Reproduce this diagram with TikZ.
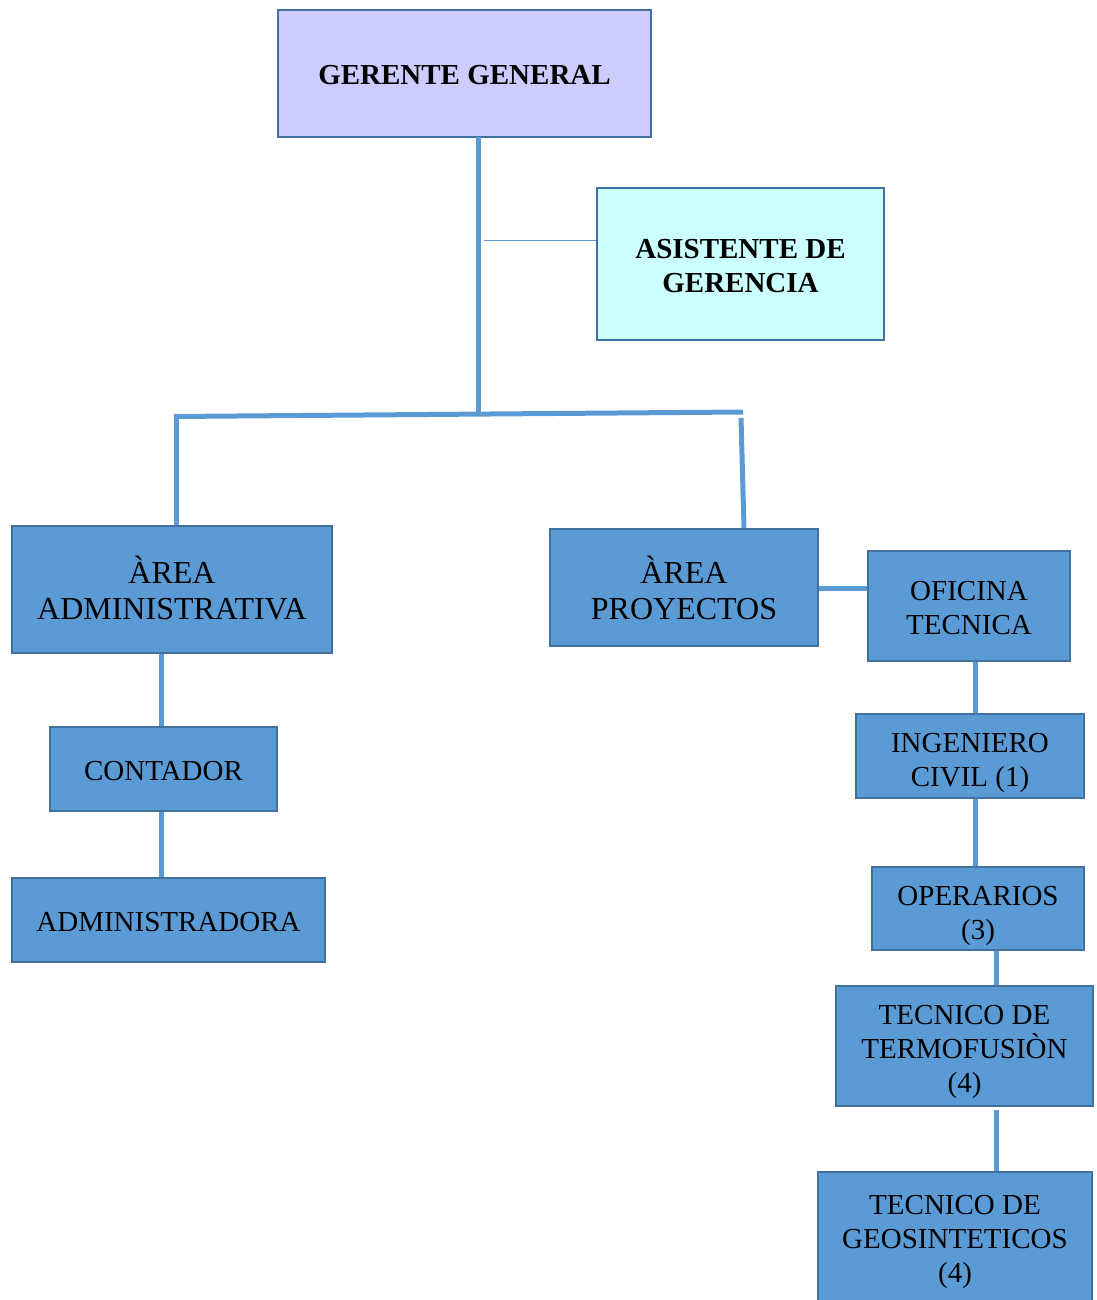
\documentclass[tikz,border=0pt]{standalone}
\usepackage{fontspec}
\setmainfont{Liberation Serif}
\definecolor{boxblue}{HTML}{5B9BD5}
\definecolor{edgeblue}{HTML}{41719C}
\definecolor{lav}{HTML}{CCCCFF}
\definecolor{cyanl}{HTML}{CCFFFF}
\begin{document}
\begin{tikzpicture}[x=1pt,y=-1pt,
  box/.style={draw=edgeblue, line width=2pt, fill=boxblue, inner sep=0pt},
  txt/.style={inner sep=0pt, align=center, font=\fontsize{29}{34}\selectfont},
  conn/.style={draw=boxblue, line width=5pt},
  thin/.style={draw=boxblue, line width=1pt}]
\useasboundingbox (0,0) rectangle (1096,1300);
% boxes
\node[box, fill=lav, minimum width=373pt, minimum height=127pt] (ger) at (464.5,73.5) {};
\node[txt, font=\fontsize{29}{34}\selectfont\bfseries] (gert) at ([yshift=-2pt]ger.center) {GERENTE GENERAL};
\node[box, fill=cyanl, minimum width=287pt, minimum height=152pt] (asi) at (740.5,264) {};
\node[txt, font=\fontsize{29}{34}\selectfont\bfseries] (asit) at ([yshift=-2pt]asi.center) {ASISTENTE DE\\GERENCIA};
\node[box, minimum width=320pt, minimum height=127pt] (adm) at (172,589.5) {};
\node[txt, font=\fontsize{32}{36}\selectfont] (admt) at ([yshift=1pt]adm.center) {ÀREA\\ADMINISTRATIVA};
\node[box, minimum width=268pt, minimum height=117pt] (pro) at (684,587.5) {};
\node[txt, font=\fontsize{32}{36}\selectfont] (prot) at ([yshift=0pt]pro.center) {ÀREA\\PROYECTOS};
\node[box, minimum width=202pt, minimum height=110pt] (ofi) at (969,606) {};
\node[txt] (ofit) at ([yshift=-2pt]ofi.center) {OFICINA\\TECNICA};
\node[box, minimum width=228pt, minimum height=84pt] (ing) at (970,756) {};
\node[txt] (ingt) at ([yshift=-7pt]ing.center) {INGENIERO\\CIVIL (1)};
\node[box, minimum width=212pt, minimum height=83pt] (ope) at (978,908.5) {};
\node[txt] (opet) at ([yshift=-7pt]ope.center) {OPERARIOS\\(3)};
\node[box, minimum width=257pt, minimum height=120pt] (ter) at (964.5,1046) {};
\node[txt] (tert) at ([yshift=-6pt]ter.center) {TECNICO DE\\TERMOFUSIÒN\\(4)};
\node[box, minimum width=274pt, minimum height=132pt] (geo) at (955,1238) {};
\node[txt] (geot) at ([yshift=-4pt]geo.center) {TECNICO DE\\GEOSINTETICOS\\(4)};
\node[box, minimum width=227pt, minimum height=84pt] (con) at (163.5,769) {};
\node[txt] (cont) at ([yshift=-2pt]con.center) {CONTADOR};
\node[box, minimum width=313pt, minimum height=84pt] (adr) at (168.5,920) {};
\node[txt] (adrt) at ([yshift=-2pt]adr.center) {ADMINISTRADORA};
% junction coordinates
\coordinate (gbot) at (478,137);
\coordinate (gj) at (478,414);
\coordinate (hl) at (174,416.5);
\coordinate (hr) at (743,412);
\coordinate (ll) at (176,414);
\coordinate (rt) at (741,418);
\coordinate (rb) at (744,528);
\coordinate (tstart) at (484,240);
\coordinate (gtop) at (996,1110);
% connectors
\draw[conn] (gbot) -- (gj);
\draw[thin] (tstart) -- (asi.west |- tstart);
\draw[conn] (hl) -- (hr);
\draw[conn] (ll) -- (adm.north -| ll);
\draw[conn] (rt) -- (rb);
\draw[conn] (adm.south -| 161,0) -- (con.north -| 161,0);
\draw[conn] (con.south -| 161,0) -- (adr.north -| 161,0);
\draw[conn] (pro.east |- 0,588) -- (ofi.west |- 0,588);
\draw[conn] (ofi.south -| 975,0) -- (ing.north -| 975,0);
\draw[conn] (ing.south -| 975,0) -- (ope.north -| 975,0);
\draw[conn] (ope.south -| 996,0) -- (ter.north -| 996,0);
\draw[conn] (gtop) -- (geo.north -| gtop);
\end{tikzpicture}
\end{document}
